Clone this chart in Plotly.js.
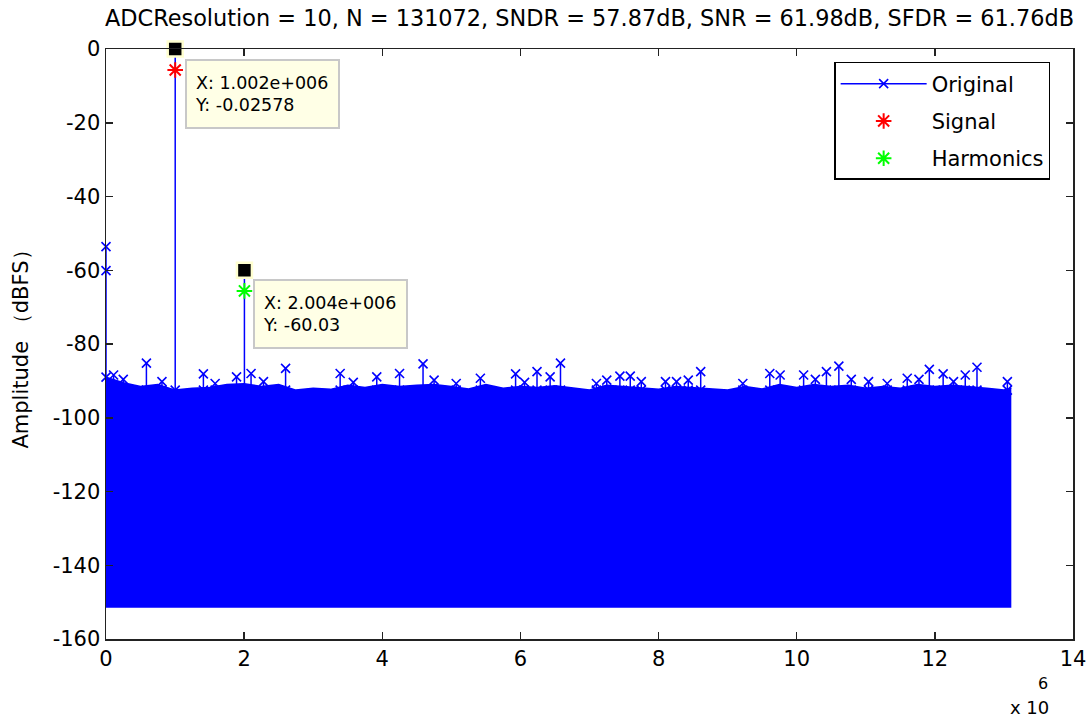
<!DOCTYPE html>
<html>
<head>
<meta charset="utf-8">
<script src="https://cdn.plot.ly/plotly-3.0.1.min.js"></script>
<style>html,body{margin:0;padding:0;background:#fff;}#chart{width:1090px;height:717px;}</style>
</head>
<body>
<div id="chart"></div>
<script>
// ---- Data (frequency in Hz, amplitude in dBFS) ----
const titleText = "ADCResolution = 10, N = 131072, SNDR = 57.87dB, SNR = 61.98dB, SFDR = 61.76dB";
const xTickVals = [0, 2e6, 4e6, 6e6, 8e6, 10e6, 12e6, 14e6];
const xTickText = ["0", "2", "4", "6", "8", "10", "12", "14"];
const yTickVals = [0, -20, -40, -60, -80, -100, -120, -140, -160];
const yTickText = ["0", "-20", "-40", "-60", "-80", "-100", "-120", "-140", "-160"];

// noise floor band: upper envelope and lower edge
const bandX = [0, 0.25e6, 0.5e6, 0.75e6, 1.0e6, 1.25e6, 1.5e6, 1.75e6, 2.0e6, 2.25e6, 2.5e6, 2.75e6,
  3.0e6, 3.25e6, 3.5e6, 3.75e6, 4.0e6, 4.25e6, 4.5e6, 4.75e6, 5.0e6, 5.25e6, 5.5e6, 5.75e6,
  6.0e6, 6.25e6, 6.5e6, 6.75e6, 7.0e6, 7.25e6, 7.5e6, 7.75e6, 8.0e6, 8.25e6, 8.5e6, 8.75e6,
  9.0e6, 9.25e6, 9.5e6, 9.75e6, 10.0e6, 10.25e6, 10.5e6, 10.75e6, 11.0e6, 11.25e6, 11.5e6, 11.75e6,
  12.0e6, 12.25e6, 12.5e6, 12.75e6, 13.0e6, 13.107e6];
const bandTop = [-89.0, -90.5, -91.5, -91.0, -92.5, -92.0, -91.8, -91.0, -90.8, -91.5, -91.0, -92.5,
  -92.0, -92.3, -91.2, -91.8, -91.0, -91.5, -91.2, -91.0, -91.5, -92.2, -91.0, -92.0,
  -91.5, -91.8, -91.3, -92.0, -92.5, -91.2, -91.5, -92.0, -92.3, -91.5, -91.8, -92.0,
  -92.5, -91.5, -92.2, -91.0, -91.8, -91.0, -91.5, -91.2, -92.0, -91.5, -92.0, -91.0,
  -91.5, -91.2, -91.5, -92.0, -92.5, -92.0];
const bandEdgeX = [0, 13.107e6];
const bandBottom = [-151.5, -151.5];
const bandBase = -92.5;

// spurs rising above the noise floor
const spurX = [0.11e6, 0.25e6, 0.585e6, 0.81e6, 1.41e6, 1.58e6, 1.89e6, 2.10e6, 2.28e6, 2.60e6,
  3.39e6, 3.58e6, 3.92e6, 4.25e6, 4.59e6, 4.75e6, 5.07e6, 5.42e6, 5.93e6, 6.06e6,
  6.24e6, 6.43e6, 6.58e6, 7.10e6, 7.25e6, 7.44e6, 7.59e6, 7.75e6, 8.10e6, 8.26e6,
  8.43e6, 8.61e6, 9.22e6, 9.61e6, 9.76e6, 10.10e6, 10.27e6, 10.43e6, 10.61e6, 10.79e6,
  11.04e6, 11.31e6, 11.60e6, 11.77e6, 11.92e6, 12.12e6, 12.27e6, 12.44e6, 12.61e6, 13.05e6];
const spurY = [-88.4, -89.6, -85.2, -90.2, -88.1, -90.7, -88.9, -88.0, -90.2, -86.6,
  -88.0, -90.4, -88.9, -88.0, -85.4, -89.8, -90.7, -89.3, -88.1, -90.4,
  -87.5, -88.9, -85.2, -90.7, -89.8, -88.7, -88.7, -90.2, -90.2, -90.2,
  -89.8, -87.5, -90.7, -88.0, -88.4, -88.4, -89.6, -87.5, -86.0, -89.6,
  -90.2, -90.7, -89.3, -89.6, -86.9, -88.1, -90.2, -88.4, -86.3, -90.2];

// DC bins
const dcX = [0, 200, 400];
const dcY = [-53.6, -60.1, -89.0];

// fundamental and harmonic
const signalX = [1.002e6];
const signalY = [-0.02578];
const signalMarkY = [-5.7];
const harmX = [2.004e6];
const harmY = [-60.03];
const harmMarkY = [-65.6];

// ---- Build traces ----
const origX = [], origY = [];
dcX.forEach((x, i) => { origX.push(x); origY.push(dcY[i]); });
origX.push(null); origY.push(null);
signalX.forEach((x, i) => { origX.push(x, x, null); origY.push(bandBase, signalY[i], null); });
harmX.forEach((x, i) => { origX.push(x, x, null); origY.push(bandBase, harmY[i], null); });
spurX.forEach((x, i) => { origX.push(x, x, null); origY.push(bandBase, spurY[i], null); });

const blue = '#0000ff';
const FONT = 'DejaVu Sans, Arial, sans-serif';
const traces = [
  {x: bandEdgeX, y: bandBottom, mode: 'lines', line: {width: 0, color: blue}, showlegend: false, hoverinfo: 'skip'},
  {x: bandX, y: bandTop, mode: 'lines', line: {width: 1.5, color: blue}, fill: 'tonexty', fillcolor: blue, showlegend: false, hoverinfo: 'skip'},
  {x: origX, y: origY, name: 'Original', mode: 'lines+markers', legendgroup: 'a',
   line: {color: blue, width: 1.5},
   marker: {symbol: 'x-thin-open', size: 9, color: blue, line: {color: blue, width: 1.6}},
   cliponaxis: false},
  {x: signalX, y: signalMarkY, name: 'Signal', mode: 'markers', legendgroup: 'b',
   marker: {symbol: 'asterisk-open', size: 13, color: '#ff0000', line: {color: '#ff0000', width: 2}}},
  {x: harmX, y: harmMarkY, name: 'Harmonics', mode: 'markers', legendgroup: 'c',
   marker: {symbol: 'asterisk-open', size: 13, color: '#00ff00', line: {color: '#00ff00', width: 2}}},
  {x: signalX.concat(harmX), y: signalY.concat(harmY), mode: 'markers', showlegend: false, cliponaxis: false,
   marker: {symbol: 'square', size: 15, color: '#000000', line: {color: '#ffffd0', width: 2.5}}}
];

const tipFont = {family: FONT, size: 17.5, color: '#000'};
const layout = {
  width: 1090, height: 717,
  margin: {l: 106, r: 17, t: 49, b: 78},
  paper_bgcolor: '#fff', plot_bgcolor: '#fff',
  font: {family: FONT, size: 21, color: '#000'},
  title: {text: titleText, x: 0.5, xref: 'paper', y: 0.975, yref: 'container', yanchor: 'middle',
          font: {family: FONT, size: 22.4, color: '#000'}},
  xaxis: {range: [0, 14e6], tickvals: xTickVals, ticktext: xTickText, ticks: 'inside', ticklen: 7,
          showline: true, mirror: 'ticks', linecolor: '#222', tickcolor: '#222', linewidth: 1.5, tickwidth: 1.5,
          showgrid: false, zeroline: false, tickfont: {family: FONT, size: 21}},
  yaxis: {range: [-160, 0], tickvals: yTickVals, ticktext: yTickText, ticks: 'inside', ticklen: 7,
          showline: true, mirror: 'ticks', linecolor: '#222', tickcolor: '#222', linewidth: 1.5, tickwidth: 1.5,
          showgrid: false, zeroline: false, tickfont: {family: FONT, size: 21},
          title: {text: 'Amplitude （dBFS）', font: {family: FONT, size: 21}, standoff: 18}},
  legend: {x: 0.753, y: 0.978, xanchor: 'left', yanchor: 'top', bgcolor: '#fff',
           bordercolor: '#000', borderwidth: 1.5, font: {family: FONT, size: 21}, traceorder: 'grouped', tracegroupgap: 7,
           itemwidth: 86},
  annotations: [
    {x: signalX[0], y: signalY[0], xref: 'x', yref: 'y', xanchor: 'left', yanchor: 'top', xshift: 10, yshift: -10,
     text: 'X: 1.002e+006<br>Y: -0.02578', showarrow: false, align: 'left', font: tipFont,
     width: 135, height: 50, bgcolor: '#ffffe6', bordercolor: '#c8c8c8', borderwidth: 2, borderpad: 8},
    {x: harmX[0], y: harmY[0], xref: 'x', yref: 'y', xanchor: 'left', yanchor: 'top', xshift: 9, yshift: -9,
     text: 'X: 2.004e+006<br>Y: -60.03', showarrow: false, align: 'left', font: tipFont,
     width: 135, height: 50, bgcolor: '#ffffe6', bordercolor: '#c8c8c8', borderwidth: 2, borderpad: 8},
    {x: 1, y: 0, xref: 'paper', yref: 'paper', xanchor: 'right', yanchor: 'middle', yshift: -68, xshift: -22,
     text: 'x 10', showarrow: false, font: {family: FONT, size: 18}},
    {x: 1, y: 0, xref: 'paper', yref: 'paper', xanchor: 'center', yanchor: 'middle', yshift: -44, xshift: -30,
     text: '6', showarrow: false, font: {family: FONT, size: 16}}
  ]
};

Plotly.newPlot('chart', traces, layout, {displayModeBar: false, staticPlot: true});
</script>
</body>
</html>
